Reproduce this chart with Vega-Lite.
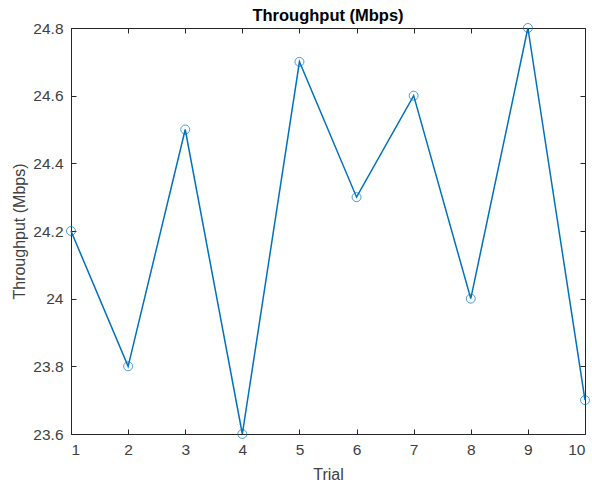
{
  "$schema": "https://vega.github.io/schema/vega-lite/v6.json",
  "autosize": "none",
  "width": 514,
  "height": 406,
  "padding": {"left": 71, "top": 28, "right": 7, "bottom": 50},
  "background": "white",
  "config": {
    "font": "Liberation Sans",
    "view": {"stroke": null},
    "axis": {
      "domainColor": "#262626",
      "domainWidth": 1,
      "tickColor": "#262626",
      "tickSize": -5,
      "grid": false,
      "labelColor": "#404040",
      "labelFontSize": 15.5,
      "titleColor": "#404040",
      "titleFontSize": 16,
      "titleFontWeight": "normal",
      "labelPadding": 11
    }
  },
  "title": {
    "text": "Throughput (Mbps)",
    "fontSize": 16.5,
    "fontWeight": "bold",
    "color": "#000000",
    "offset": -3,
    "anchor": "middle"
  },
  "data": {
    "values": [
      {"Trial": 1, "Throughput": 24.2},
      {"Trial": 2, "Throughput": 23.8},
      {"Trial": 3, "Throughput": 24.5},
      {"Trial": 4, "Throughput": 23.6},
      {"Trial": 5, "Throughput": 24.7},
      {"Trial": 6, "Throughput": 24.3},
      {"Trial": 7, "Throughput": 24.6},
      {"Trial": 8, "Throughput": 24.0},
      {"Trial": 9, "Throughput": 24.8},
      {"Trial": 10, "Throughput": 23.7}
    ]
  },
  "layer": [
    {
      "mark": {"type": "line", "color": "#0072BD", "strokeWidth": 1.5},
      "encoding": {
        "x": {
          "field": "Trial", "type": "quantitative",
          "scale": {"domain": [1, 10], "nice": false, "zero": false},
          "axis": {"values": [1,2,3,4,5,6,7,8,9,10], "title": "Trial", "titlePadding": 9, "labelPadding": 13}
        },
        "y": {
          "field": "Throughput", "type": "quantitative",
          "scale": {"domain": [23.6, 24.8], "nice": false, "zero": false},
          "axis": {"values": [23.6, 23.8, 24, 24.2, 24.4, 24.6, 24.8], "format": ".1~f", "title": "Throughput (Mbps)", "titlePadding": 5, "labelPadding": 13}
        }
      }
    },
    {
      "mark": {"type": "point", "shape": "circle", "filled": false, "color": "#0072BD", "size": 80, "strokeWidth": 1},
      "encoding": {
        "x": {
          "field": "Trial", "type": "quantitative",
          "axis": {"orient": "top", "values": [1,2,3,4,5,6,7,8,9,10], "labels": false, "title": null}
        },
        "y": {
          "field": "Throughput", "type": "quantitative",
          "axis": {"orient": "right", "values": [23.6, 23.8, 24, 24.2, 24.4, 24.6, 24.8], "labels": false, "title": null}
        }
      }
    }
  ],
  "resolve": {"axis": {"x": "independent", "y": "independent"}}
}
